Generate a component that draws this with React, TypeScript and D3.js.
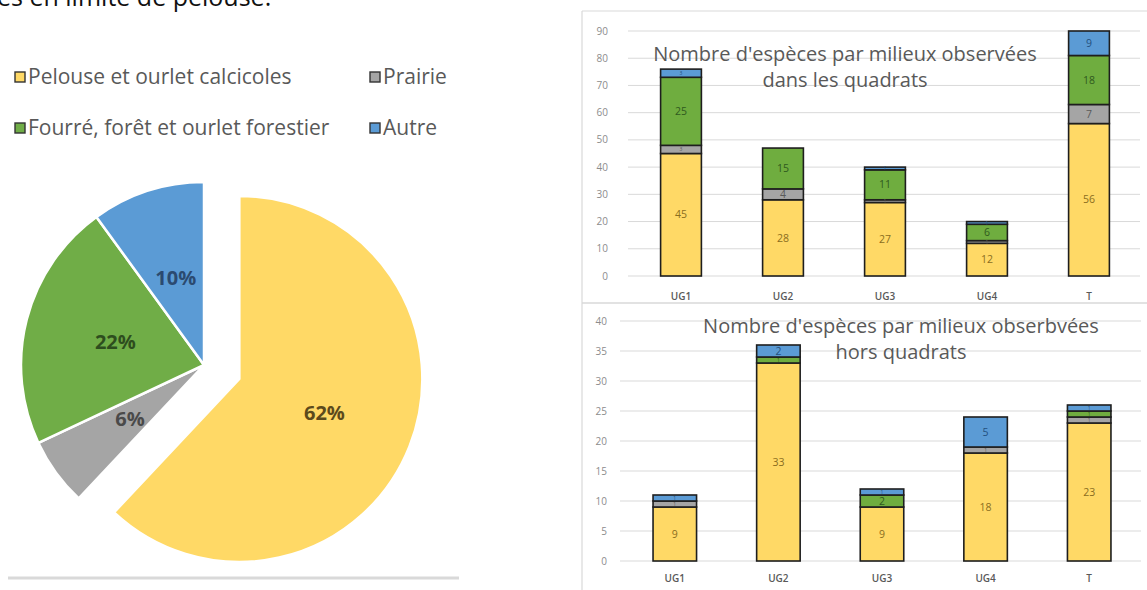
import React from "react";
import * as d3 from "d3";

// ---------- data ----------
const pieCategories = ["Pelouse et ourlet calcicoles", "Prairie", "Fourré, forêt et ourlet forestier", "Autre"];
const pieValues = [62, 6, 22, 10];
const pieColors = ["#FFD966", "#A5A5A5", "#70AD47", "#5B9BD5"];
const pieLabelColors = ["#5c4a1c", "#4a4a4a", "#2e4d1e", "#2b4a70"];

const barCategories = ["UG1", "UG2", "UG3", "UG4", "T"];
const seriesKeys = ["Pelouse", "Prairie", "Fourre", "Autre"];
const seriesColors = ["#FFD966", "#A5A5A5", "#6FAD3F", "#5B9BD5"];
const seriesLabelColors = ["#8a6d1e", "#5a5a5a", "#2f5a1e", "#24507e"];

// in quadrats
const inPelouse = [45, 28, 27, 12, 56];
const inPrairie = [3, 4, 1, 1, 7];
const inFourre = [25, 15, 11, 6, 18];
const inAutre = [3, 0, 1, 1, 9];
// out of quadrats
const outPelouse = [9, 33, 9, 18, 23];
const outPrairie = [1, 0, 0, 1, 1];
const outFourre = [0, 1, 2, 0, 1];
const outAutre = [1, 2, 1, 5, 1];

const topTicks = [0, 10, 20, 30, 40, 50, 60, 70, 80, 90];
const bottomTicks = [0, 5, 10, 15, 20, 25, 30, 35, 40];

const FONT = "'Open Sans', 'Noto Sans', sans-serif";

function buildRows(a: number[], b: number[], c: number[], d: number[]) {
  return barCategories.map((cat, i) => ({ cat, Pelouse: a[i], Prairie: b[i], Fourre: c[i], Autre: d[i] }));
}

type BarProps = {
  rows: any[];
  ticks: number[];
  yMax: number;
  x0: number; x1: number;
  y0: number; y1: number;
  gridX0: number;
  tickX: number;
  labelY: number;
  padInner: number; padOuter: number;
  title1: string; title2: string;
  t1x: number; t1y: number; t2x: number; t2y: number;
};

function StackedBars(p: BarProps) {
  const x = d3.scaleBand<string>().domain(barCategories).range([p.x0, p.x1]).paddingInner(p.padInner).paddingOuter(p.padOuter);
  const y = d3.scaleLinear().domain([0, p.yMax]).range([p.y0, p.y1]);
  const stack = d3.stack<any>().keys(seriesKeys);
  const layers = stack(p.rows);
  return (
    <g>
      {p.ticks.map((t) => (
        <g key={t}>
          <line x1={p.gridX0} x2={p.x1} y1={y(t)} y2={y(t)} stroke="#d9d9d9" strokeWidth={1} />
          <text x={p.tickX} y={y(t)} dy="0.35em" textAnchor="end" fontSize={10} fill="#8c8c8c" fontFamily={FONT}>{t}</text>
        </g>
      ))}
      <text x={p.t1x} y={p.t1y} textAnchor="middle" fontSize={20} fill="#595959" fontFamily={FONT}>{p.title1}</text>
      <text x={p.t2x} y={p.t2y} textAnchor="middle" fontSize={20} fill="#595959" fontFamily={FONT}>{p.title2}</text>
      {layers.map((layer, li) => (
        <g key={li}>
          {layer.map((d, i) => {
            const v = d[1] - d[0];
            if (v <= 0) return null;
            const cat = barCategories[i];
            return (
              <rect key={cat} x={x(cat)} width={x.bandwidth()} y={y(d[1])} height={y(d[0]) - y(d[1])}
                fill={seriesColors[li]} stroke="#1e1e1e" strokeWidth={1.6} />
            );
          })}
        </g>
      ))}
      {layers.map((layer, li) => (
        <g key={"l" + li}>
          {layer.map((d, i) => {
            const v = d[1] - d[0];
            if (v <= 0) return null;
            const cat = barCategories[i];
            const small = y(d[0]) - y(d[1]) < 9;
            return (
              <text key={cat} x={(x(cat) as number) + x.bandwidth() / 2} y={(y(d[0]) + y(d[1])) / 2} dy="0.35em"
                textAnchor="middle" fontSize={small ? 5 : 10.5} fill={seriesLabelColors[li]} fontFamily={FONT}>{v}</text>
            );
          })}
        </g>
      ))}
      {barCategories.map((c) => (
        <text key={c} x={(x(c) as number) + x.bandwidth() / 2} y={p.labelY} textAnchor="middle" fontSize={10} fontWeight={600}
          fill="#595959" fontFamily={FONT}>{c}</text>
      ))}
    </g>
  );
}

export default function App() {
  const cx = 204, cy = 365, r = 183, explode = 38;
  const arcs = d3.pie<number>().sort(null).startAngle(0).endAngle(2 * Math.PI)(pieValues);
  const arcGen = d3.arc<any>().innerRadius(0).outerRadius(r);

  const topRows = buildRows(inPelouse, inPrairie, inFourre, inAutre);
  const botRows = buildRows(outPelouse, outPrairie, outFourre, outAutre);

  return (
    <svg width={1147} height={590} style={{ position: "absolute", left: 0, top: 0, background: "#fff" }}>
      <rect x={0} y={0} width={1147} height={590} fill="#fff" />
      {/* clipped heading text */}
      <text x={-3} y={6} fontSize={25} fill="#111" fontFamily={FONT}>es en limite de pelouse.</text>

      {/* pie legend */}
      {pieCategories.map((c, i) => {
        const col = i % 2, row = Math.floor(i / 2);
        const lx = col === 0 ? 15 : 370;
        const ly = row === 0 ? 77 : 128;
        return (
          <g key={c}>
            <rect x={lx} y={ly - 5} width={10} height={10} fill={pieColors[i]} stroke="#333" strokeWidth={1.4} />
            <text x={lx + 13} y={ly} dy="0.35em" fontSize={21} fill="#595959" fontFamily={FONT}>{c}</text>
          </g>
        );
      })}

      {/* pie */}
      {arcs.map((a, i) => {
        const mid = (a.startAngle + a.endAngle) / 2;
        const off = i === 0 ? explode : 0;
        const tx = cx + Math.sin(mid) * off, ty = cy - Math.cos(mid) * off;
        const [lx, ly] = arcGen.centroid(a);
        return (
          <g key={i} transform={`translate(${tx},${ty})`}>
            <path d={arcGen(a) as string} fill={pieColors[i]} stroke="#fff" strokeWidth={2.5} strokeLinejoin="round" />
            <text x={lx} y={ly} dy="0.35em" textAnchor="middle" fontSize={20} fontWeight={700} fill={pieLabelColors[i]} fontFamily={FONT}>
              {Math.round(pieValues[i])}%
            </text>
          </g>
        );
      })}
      <line x1={8} x2={459} y1={578} y2={578} stroke="#d9d9d9" strokeWidth={3} />

      {/* right chart frames */}
      <line x1={582} x2={1147} y1={11} y2={11} stroke="#d9d9d9" strokeWidth={1.2} />
      <line x1={582} x2={582} y1={11} y2={590} stroke="#d9d9d9" strokeWidth={1.2} />
      <line x1={582} x2={1147} y1={303} y2={303} stroke="#d9d9d9" strokeWidth={1.5} />

      <StackedBars rows={topRows} ticks={topTicks} yMax={90} x0={630} x1={1140} y0={276} y1={31}
        gridX0={628} tickX={608} labelY={300} padInner={0.6} padOuter={0.3}
        title1="Nombre d'espèces par milieux observées" title2="dans les quadrats"
        t1x={845} t1y={61} t2x={845} t2y={87} />
      <StackedBars rows={botRows} ticks={bottomTicks} yMax={40} x0={623} x1={1141} y0={561} y1={321}
        gridX0={620} tickX={607} labelY={582} padInner={0.58} padOuter={0.29}
        title1="Nombre d'espèces par milieux obserbvées" title2="hors quadrats"
        t1x={901} t1y={333} t2x={901} t2y={359} />
    </svg>
  );
}
